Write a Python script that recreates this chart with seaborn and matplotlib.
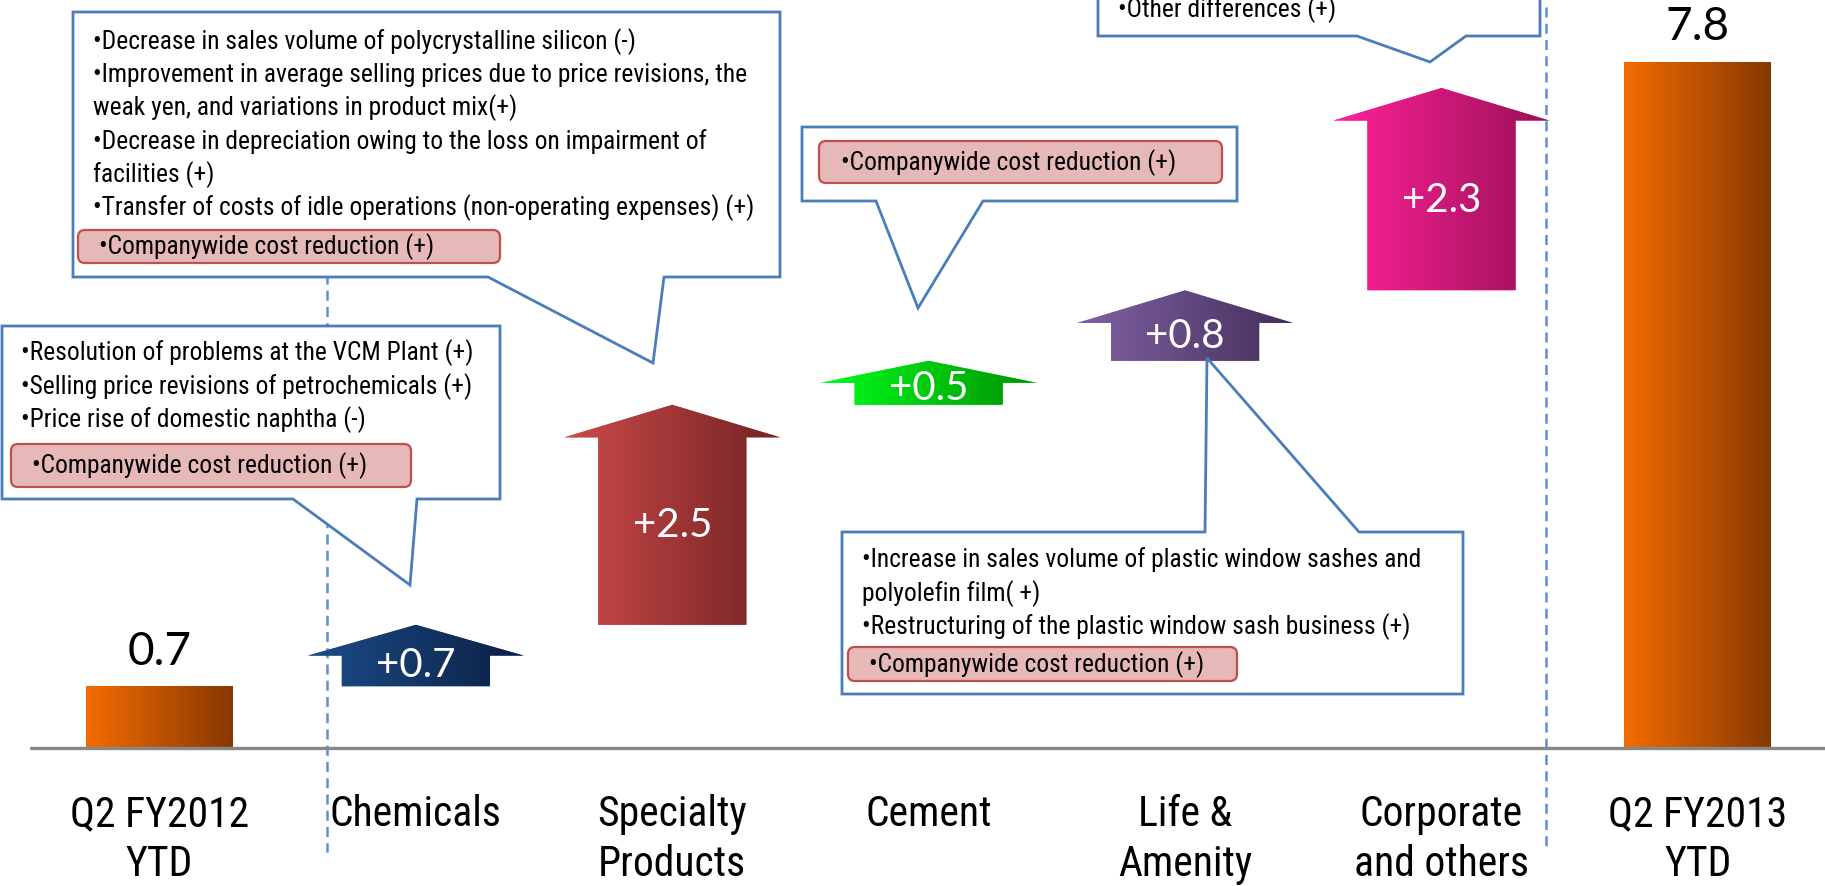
import numpy as np
import pandas as pd
import matplotlib
matplotlib.use("Agg")
import matplotlib.pyplot as plt
import seaborn as sns
from matplotlib.patches import Polygon, FancyBboxPatch
from matplotlib import transforms
from matplotlib import font_manager as fm
from matplotlib.colors import LinearSegmentedColormap

# ---------------- data ----------------
categories = ["Q2 FY2012\nYTD", "Chemicals", "Specialty\nProducts", "Cement",
              "Life &\nAmenity", "Corporate\nand others", "Q2 FY2013\nYTD"]
start_value = 0.7
end_value = 7.8
segment_changes = [0.7, 2.5, 0.5, 0.8, 2.3]
total_labels = ["0.7", "7.8"]
change_labels = ["+0.7", "+2.5", "+0.5", "+0.8", "+2.3"]

arrow_colors = [("#1d4c8a", "#0b2043"), ("#cd4a4a", "#732323"), ("#00ff1e", "#009200"),
                ("#8162a5", "#442f5a"), ("#ff2299", "#9a1056")]
bar_colors = ("#f46c00", "#873800")

highlight_note = "\u2022Companywide cost reduction (+)"
specialty_notes = [
    "\u2022Decrease in sales volume of polycrystalline silicon (-)",
    "\u2022Improvement in average selling prices due to price revisions, the",
    "weak yen, and variations in product mix(+)",
    "\u2022Decrease in depreciation owing to the loss on impairment of",
    "facilities (+)",
    "\u2022Transfer of costs of idle operations (non-operating expenses) (+)",
]
chemicals_notes = [
    "\u2022Resolution of problems at the VCM Plant (+)",
    "\u2022Selling price revisions of petrochemicals (+)",
    "\u2022Price rise of domestic naphtha (-)",
]
life_notes = [
    "\u2022Increase in sales volume of plastic window sashes and",
    "polyolefin film( +)",
    "\u2022Restructuring of the plastic window sash business (+)",
]
corporate_notes = ["\u2022Other differences (+)"]

# ---------------- style ----------------
sns.set_theme(style="white")
_fonts = fm.fontManager.ttflist
_names = {f.name for f in _fonts}
NSTRETCH = "normal"
if "Liberation Sans Narrow" in _names:
    NARROW = ["Liberation Sans Narrow", "DejaVu Sans"]
elif any(f.name == "Liberation Sans" and str(f.stretch) in ("condensed", "semi-condensed") for f in _fonts):
    NARROW = ["Liberation Sans", "DejaVu Sans"]
    NSTRETCH = "condensed"
else:
    NARROW = None
    for cand in ["Arial Narrow", "Roboto Condensed", "Archivo Narrow", "PT Sans Narrow",
                 "IBM Plex Sans Condensed", "Liberation Sans"]:
        if cand in _names:
            NARROW = [cand, "DejaVu Sans"]
            break
    if NARROW is None:
        NARROW = ["DejaVu Sans"]
ROUND = ["Lato", "DejaVu Sans"]
plt.rcParams["font.family"] = NARROW

W, H = 1825, 886
fig = plt.figure(figsize=(W / 100, H / 100), dpi=100)
base_px = 748
ax = fig.add_axes([0, (H - base_px) / H, 1, base_px / H])
px = transforms.Affine2D().scale(1 / W, -1 / H).translate(0, 1) + fig.transFigure

df = pd.DataFrame({"category": [categories[0], categories[-1]],
                   "value": [start_value, end_value]})
sns.barplot(data=df, x="category", y="value", order=categories, width=0.573,
            color=bar_colors[0], saturation=1, errorbar=None, ax=ax, zorder=2)


def gradient(patch, c0, c1, extent, z):
    cmap = LinearSegmentedColormap.from_list("g", [c0, c1])
    grad = np.linspace(0, 1, 256).reshape(1, -1)
    im = ax.imshow(grad, cmap=cmap, extent=extent, aspect="auto", origin="lower",
                   zorder=z, interpolation="bilinear")
    im.set_clip_path(patch)


bars = [p for p in ax.patches if p.get_height() > 0]
for p in bars:
    x0, w, h = p.get_x(), p.get_width(), p.get_height()
    gradient(p, bar_colors[0], bar_colors[1], (x0, x0 + w, 0, h), 2.5)

# totals labels
for p, lab in zip(bars, total_labels):
    ax.annotate(lab, (p.get_x() + p.get_width() / 2, p.get_height()),
                xytext=(0, 10), textcoords="offset points", ha="center", va="bottom",
                fontsize=33, family=ROUND, color="black", zorder=6)

# arrows
levels = start_value + np.cumsum(segment_changes)
prev = np.concatenate([[start_value], levels[:-1]])
body_hw, head_hw = 0.289, 0.421
for i, (y0, y1, lab, cols) in enumerate(zip(prev, levels, change_labels, arrow_colors)):
    xc = i + 1
    head = min(0.37, 0.5 * (y1 - y0))
    yb = y1 - head
    pts = [(xc - body_hw, y0), (xc + body_hw, y0), (xc + body_hw, yb), (xc + head_hw, yb),
           (xc, y1), (xc - head_hw, yb), (xc - body_hw, yb)]
    poly = Polygon(pts, closed=True, facecolor=cols[0], edgecolor="none", zorder=3)
    ax.add_patch(poly)
    gradient(poly, cols[0], cols[1], (xc - head_hw, xc + head_hw, y0, y1), 3.1)
    ax.text(xc, (y0 + yb) / 2 + 0.06, lab, ha="center", va="center", color="white",
            fontsize=29, family=ROUND, zorder=4)

ax.set_xlim(-159.5 / 256.4, (W - 159.5) / 256.4)
ax.set_ylim(0, base_px / 88)


def dx(p):
    return (p - 159.5) / 256.4


def dy(p):
    return (base_px - p) / 88


# dashed separators
for xp, ytop, ybot in [(327, 14, 852), (1546, 7, 847)]:
    ax.plot([dx(xp), dx(xp)], [dy(ytop), dy(ybot)], color="#5f8fcf", lw=1.8,
            ls=(0, (4, 2.5)), clip_on=False, zorder=1)

# baseline
ax.axhline(0, xmin=31 / W, xmax=1, color="#878787", lw=2.4, clip_on=False, zorder=4)

for s in ax.spines.values():
    s.set_visible(False)
ax.set_yticks([])
ax.set_ylabel("")
ax.set_xlabel("")
ax.set_xticks(range(len(categories)))
ax.set_xticklabels(categories, fontsize=30, family=NARROW, fontstretch=NSTRETCH,
                   color="black", linespacing=1.28)
ax.tick_params(axis="x", length=0, pad=33)

# callouts
EDGE = "#4a7ebb"
NOTE_SIZE = 18.4


def callout(pts):
    ax.add_patch(Polygon(pts, closed=True, transform=px, facecolor="white",
                         edgecolor=EDGE, lw=2.0, clip_on=False, zorder=5, joinstyle="miter"))


def highlight(x0, y0, x1, y1, tx, ty):
    ax.add_patch(FancyBboxPatch((x0, y0), x1 - x0, y1 - y0,
                                boxstyle="round,pad=0,rounding_size=7", transform=px,
                                facecolor="#e6b9b8", edgecolor="#c0504d", lw=1.6,
                                clip_on=False, zorder=6))
    ax.text(tx, ty, highlight_note, transform=px, ha="left", va="center",
            fontsize=NOTE_SIZE, family=NARROW, fontstretch=NSTRETCH, color="black",
            zorder=7, clip_on=False)


def notes(lines, x, ys):
    for t, y in zip(lines, ys):
        ax.text(x, y, t, transform=px, ha="left", va="center", fontsize=NOTE_SIZE,
                family=NARROW, fontstretch=NSTRETCH, color="black", zorder=7, clip_on=False)


# specialty products callout (top)
callout([(73, 12), (780, 12), (780, 277), (664, 277), (653, 363), (488, 277), (73, 277)])
notes(specialty_notes, 93, [42, 75, 108, 142, 175, 208])
highlight(78, 230, 500, 263, 99, 247)

# chemicals callout
callout([(2, 326), (500, 326), (500, 499), (417, 499), (410, 585), (293, 499), (2, 499)])
notes(chemicals_notes, 21, [353, 387, 420])
highlight(11, 444, 411, 487, 32, 466)

# cement callout
callout([(802, 127), (1237, 127), (1237, 201), (983, 201), (918, 308), (876, 201), (802, 201)])
highlight(819, 141, 1222, 183, 841, 163)

# life & amenity callout
callout([(842, 532), (1205, 532), (1207, 358), (1359, 532), (1463, 532), (1463, 694), (842, 694)])
notes(life_notes, 862, [560, 594, 627])
highlight(848, 647, 1237, 681, 869, 665)

# corporate callout (partly above the frame)
callout([(1098, -20), (1540, -20), (1540, 36), (1466, 36), (1430, 62), (1357, 36), (1098, 36)])
notes(corporate_notes, 1118, [10])

fig.savefig("out.png", dpi=100, facecolor="white")
